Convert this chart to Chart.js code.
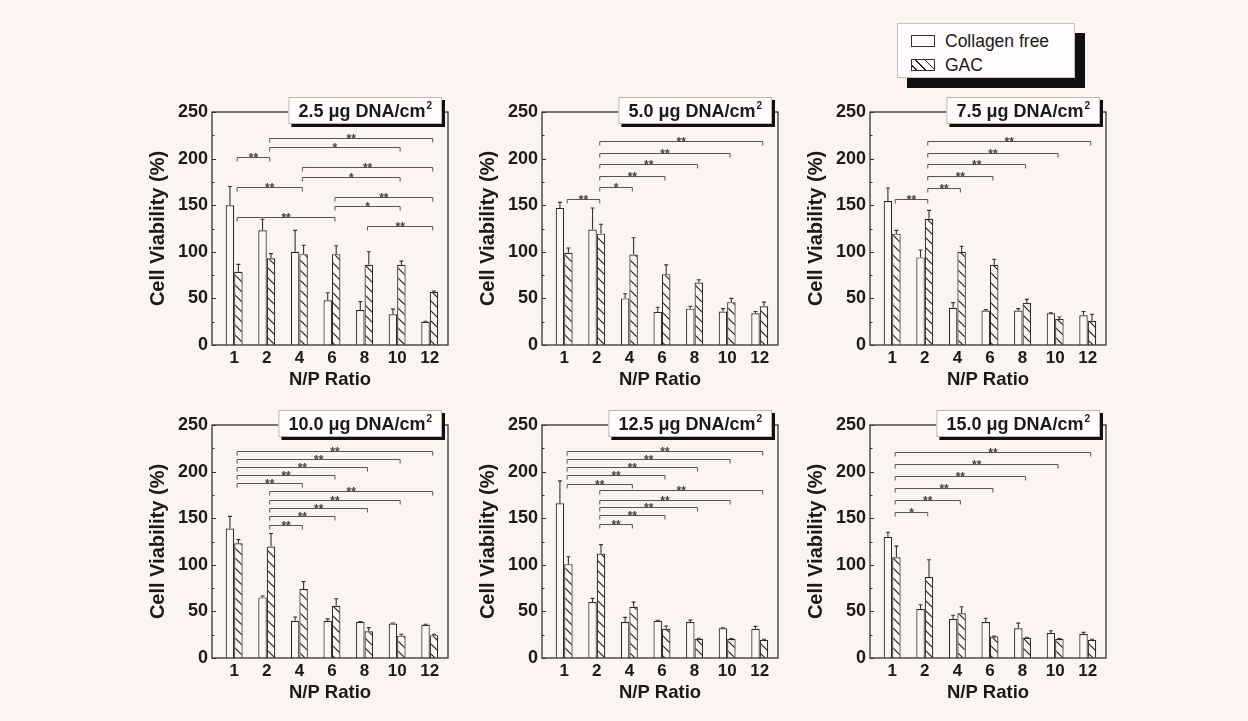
<!DOCTYPE html>
<html>
<head>
<meta charset="utf-8">
<title>Cell viability vs N/P ratio</title>
<script src="https://cdn.jsdelivr.net/npm/chart.js@4.4.1/dist/chart.umd.min.js"></script>
<style>
  body { margin: 0; width: 1248px; height: 721px; background: #fcf4f1; position: relative; overflow: hidden;
         font-family: "Liberation Sans", Arial, sans-serif; }
  canvas.panel { position: absolute; }
  #legend { position: absolute; left: 897px; top: 23px; width: 178px; height: 55px; box-sizing: border-box;
            background: #fffcfb; border: 1px solid #c8c2bf; box-shadow: 10px 10px 0 #111; }
  #legend .item { position: absolute; left: 13px; height: 20px; line-height: 20px; font-size: 17.5px; color: #1a1a1a;
                  display: flex; align-items: center; }
  #legend .sw { width: 24px; height: 12px; box-sizing: border-box; border: 1px solid #333; margin-right: 10px; background: #fffcfb; }
  #legend .hatch { background: repeating-linear-gradient(45deg, transparent 0 2.6px, #222 2.6px 3.8px, transparent 3.8px 6.5px), #fffcfb; }
</style>
</head>
<body>
<div id="legend">
  <div class="item" style="top:7px"><span class="sw"></span>Collagen free</div>
  <div class="item" style="top:31px"><span class="sw hatch"></span>GAC</div>
</div>
<script>
// categories and tick labels
const ratios = ["1", "2", "4", "6", "8", "10", "12"];
const yTicks = [0, 50, 100, 150, 200, 250];
const doses = ["2.5", "5.0", "7.5", "10.0", "12.5", "15.0"];

// 2.5 ug DNA/cm2
const free25 = [150, 123, 100, 48, 37.5, 33, 25];
const free25Err = [20, 12, 23, 8, 9, 5.5, 0.5];
const gac25 = [78.5, 93, 97.5, 97.5, 86, 86, 57];
const gac25Err = [8, 5, 9.5, 9, 14, 4, 1];
const sig25 = [[0, 1, 202, "**"], [1, 6, 222, "**"], [1, 5, 212.5, "*"], [2, 6, 191, "**"], [2, 5, 180, "*"],
               [0, 2, 169, "**"], [3, 6, 159, "**"], [3, 5, 149, "*"], [0, 3, 137.5, "**"], [4, 6, 127.5, "**"]];

// 5.0 ug DNA/cm2
const free50 = [147, 124, 50, 35.5, 39, 36, 34];
const free50Err = [6, 23, 5, 5, 2.5, 3, 2];
const gac50 = [99, 119.5, 97, 76, 67, 46, 41.5];
const gac50Err = [5, 10, 18, 10, 3, 4, 4.5];
const sig50 = [[0, 1, 157, "**"], [1, 2, 169, "*"], [1, 3, 181, "**"], [1, 4, 194, "**"], [1, 5, 206, "**"], [1, 6, 219, "**"]];

// 7.5 ug DNA/cm2
const free75 = [154.5, 94, 40, 37, 37, 34, 32];
const free75Err = [14, 8, 5.5, 1, 2, 0.5, 4];
const gac75 = [119.5, 135.5, 100, 86, 45, 28, 26];
const gac75Err = [3.5, 9, 6, 6, 4, 2, 7];
const sig75 = [[0, 1, 157, "**"], [1, 2, 168, "**"], [1, 3, 181, "**"], [1, 4, 194, "**"], [1, 5, 206, "**"], [1, 6, 219, "**"]];

// 10.0 ug DNA/cm2
const free100 = [139, 65, 40, 40, 38.6, 37, 35.7];
const free100Err = [13, 1.5, 4, 2, 0.5, 0.5, 0.5];
const gac100 = [123, 119.6, 74, 56, 28.6, 24, 24.5];
const gac100Err = [4, 14, 8, 7.5, 4, 1.5, 1];
const sig100 = [[0, 6, 222.5, "**"], [0, 5, 214, "**"], [0, 4, 205, "**"], [0, 3, 196, "**"], [0, 2, 188, "**"],
                [1, 6, 179, "**"], [1, 5, 170, "**"], [1, 4, 161, "**"], [1, 3, 152, "**"], [1, 2, 143, "**"]];

// 12.5 ug DNA/cm2
const free125 = [166, 60, 38.6, 40, 38.6, 32, 31.4];
const free125Err = [24, 4, 5, 0.5, 2, 0.5, 2.5];
const gac125 = [100.7, 112, 55, 31.4, 20.7, 20.4, 19.6];
const gac125Err = [8, 9.6, 5, 3, 0.5, 0.5, 0.5];
const sig125 = [[0, 6, 222.5, "**"], [0, 5, 213, "**"], [0, 4, 205, "**"], [0, 3, 196, "**"], [0, 2, 187, "**"],
                [1, 6, 180, "**"], [1, 5, 170, "**"], [1, 4, 162, "**"], [1, 3, 153.6, "**"], [1, 2, 143.6, "**"]];

// 15.0 ug DNA/cm2
const free150 = [130, 52.5, 41.8, 38.6, 32, 26.8, 25.7];
const free150Err = [5, 4.6, 4, 4, 5.4, 2.5, 1.8];
const gac150 = [108, 86.8, 48, 23, 21.8, 20.4, 19.6];
const gac150Err = [12, 18.6, 7, 0.5, 0.5, 0.5, 0.5];
const sig150 = [[0, 6, 220.7, "**"], [0, 5, 208, "**"], [0, 4, 195, "**"], [0, 3, 182, "**"], [0, 2, 169.6, "**"], [0, 1, 157, "*"]];

const FONT = '"Liberation Sans", Arial, sans-serif';
const INK = "#1a1a1a";
const BAR_FILL = "#fdf7f5";

// hatch tile for the GAC bars ("\" lines)
function makeHatch(ctx) {
    const tile = document.createElement("canvas");
    tile.width = 10;
    tile.height = 10;
    const g = tile.getContext("2d");
    g.fillStyle = BAR_FILL;
    g.fillRect(0, 0, 10, 10);
    g.strokeStyle = "#222";
    g.lineWidth = 1.2;
    g.beginPath();
    g.moveTo(-2, -2); g.lineTo(12, 12);
    g.moveTo(-2, 8); g.lineTo(2, 12);
    g.moveTo(8, -2); g.lineTo(12, 2);
    g.stroke();
    return ctx.createPattern(tile, "repeat");
}

// error bars, significance brackets, frame and the title box
function decoPlugin(dose, errs, sig) {
    return {
        id: "deco",
        afterDatasetsDraw(chart) {
            const ctx = chart.ctx, y = chart.scales.y, x = chart.scales.x;
            ctx.save();
            ctx.strokeStyle = "#333";
            ctx.lineWidth = 1.1;
            chart.data.datasets.forEach((ds, d) => {
                chart.getDatasetMeta(d).data.forEach((bar, i) => {
                    const top = y.getPixelForValue(ds.data[i].y + errs[d][i]);
                    ctx.beginPath();
                    ctx.moveTo(bar.x, bar.y);
                    ctx.lineTo(bar.x, top);
                    ctx.moveTo(bar.x - 2, top);
                    ctx.lineTo(bar.x + 2, top);
                    ctx.stroke();
                });
            });
            // brackets
            ctx.strokeStyle = "#555";
            ctx.lineWidth = 1;
            ctx.fillStyle = "#444";
            ctx.font = "bold 12px " + FONT;
            ctx.textAlign = "center";
            ctx.textBaseline = "alphabetic";
            sig.forEach(([a, b, lvl, mark]) => {
                const x1 = x.getPixelForValue(a + 1) + 3, x2 = x.getPixelForValue(b + 1) + 3;
                const yy = Math.round(y.getPixelForValue(lvl)) + 0.5;
                ctx.beginPath();
                ctx.moveTo(x1, yy + 4);
                ctx.lineTo(x1, yy);
                ctx.lineTo(x2, yy);
                ctx.lineTo(x2, yy + 4);
                ctx.stroke();
                ctx.fillText(mark, (x1 + x2) / 2, yy + 4);
            });
            ctx.restore();
        },
        afterDraw(chart) {
            const ctx = chart.ctx, a = chart.chartArea, y = chart.scales.y;
            ctx.save();
            ctx.strokeStyle = "#333";
            ctx.lineWidth = 1.3;
            ctx.strokeRect(a.left, a.top, a.right - a.left, a.bottom - a.top);
            // small inward ticks on the left axis
            ctx.lineWidth = 1;
            for (let v = 0; v <= 250; v += 25) {
                const py = Math.round(y.getPixelForValue(v)) + 0.5;
                ctx.beginPath();
                ctx.moveTo(a.left, py);
                ctx.lineTo(a.left + (v % 50 === 0 ? 4 : 2.5), py);
                ctx.stroke();
            }
            // title box with shadow
            const main = dose + " \u03bcg DNA/cm";
            ctx.font = "bold 18px " + FONT;
            const mw = ctx.measureText(main).width;
            ctx.font = "bold 10px " + FONT;
            const sw = ctx.measureText("2").width;
            const bw = mw + sw + 21, bh = 27;
            const bx = a.right - 6 - bw, by = a.top - 15;
            ctx.fillStyle = "#111";
            ctx.fillRect(bx + 3, by + 3, bw, bh);
            ctx.fillStyle = "#fffcfb";
            ctx.fillRect(bx, by, bw, bh);
            ctx.strokeStyle = "#bdb7b4";
            ctx.lineWidth = 1;
            ctx.strokeRect(bx + 0.5, by + 0.5, bw - 1, bh - 1);
            ctx.fillStyle = INK;
            ctx.textAlign = "left";
            ctx.textBaseline = "alphabetic";
            ctx.font = "bold 18px " + FONT;
            ctx.fillText(main, bx + 10, by + 20);
            ctx.font = "bold 10px " + FONT;
            ctx.fillText("2", bx + 10 + mw + 1, by + 12);
            ctx.restore();
        }
    };
}

const panelLeft = [212, 542, 870];
const panelTop = [112, 425];
const panels = [
    [doses[0], free25, free25Err, gac25, gac25Err, sig25],
    [doses[1], free50, free50Err, gac50, gac50Err, sig50],
    [doses[2], free75, free75Err, gac75, gac75Err, sig75],
    [doses[3], free100, free100Err, gac100, gac100Err, sig100],
    [doses[4], free125, free125Err, gac125, gac125Err, sig125],
    [doses[5], free150, free150Err, gac150, gac150Err, sig150]
];

panels.forEach(([dose, free, freeErr, gac, gacErr, sig], k) => {
    const cv = document.createElement("canvas");
    cv.className = "panel";
    cv.width = 312;           // 70 axis + 236 plot + 6
    cv.height = 303;          // 20 top + 233 plot + 50 axis
    cv.style.left = (panelLeft[k % 3] - 70) + "px";
    cv.style.top = (panelTop[Math.floor(k / 3)] - 20) + "px";
    document.body.appendChild(cv);
    const ctx = cv.getContext("2d");

    new Chart(ctx, {
        type: "bar",
        data: {
            datasets: [
                {
                    label: "Collagen free",
                    data: free.map((v, i) => ({ x: i + 1, y: v })),
                    backgroundColor: BAR_FILL,
                    borderColor: "#2a2a2a",
                    borderWidth: 1.2,
                    categoryPercentage: 0.52,
                    barPercentage: 1
                },
                {
                    label: "GAC",
                    data: gac.map((v, i) => ({ x: i + 1, y: v })),
                    backgroundColor: makeHatch(ctx),
                    borderColor: "#2a2a2a",
                    borderWidth: 1.2,
                    categoryPercentage: 0.52,
                    barPercentage: 1
                }
            ]
        },
        options: {
            responsive: false,
            animation: false,
            devicePixelRatio: 1,
            layout: { padding: { top: 20, right: 6, left: 0, bottom: 0 } },
            plugins: { legend: { display: false }, tooltip: { enabled: false } },
            scales: {
                x: {
                    type: "linear",
                    min: 0.32,
                    max: 7.56,
                    offset: false,
                    afterBuildTicks: (s) => { s.ticks = ratios.map((r, i) => ({ value: i + 1 })); },
                    afterFit: (s) => { s.height = 50; },
                    ticks: {
                        callback: (v) => ratios[v - 1],
                        autoSkip: false,
                        maxRotation: 0,
                        padding: 3,
                        color: INK,
                        font: { family: FONT, size: 17, weight: "bold" }
                    },
                    grid: { display: false, drawTicks: false },
                    border: { display: false },
                    title: {
                        display: true,
                        text: "N/P Ratio",
                        color: INK,
                        padding: { top: 4, bottom: 4 },
                        font: { family: FONT, size: 18.5, weight: "bold" }
                    }
                },
                y: {
                    min: 0,
                    max: 250,
                    afterBuildTicks: (s) => { s.ticks = yTicks.map((v) => ({ value: v })); },
                    afterFit: (s) => { s.width = 70; },
                    ticks: {
                        padding: 4,
                        color: INK,
                        font: { family: FONT, size: 18, weight: "bold" }
                    },
                    grid: { display: false, drawTicks: false },
                    border: { display: false },
                    title: {
                        display: true,
                        text: "Cell Viability (%)",
                        color: INK,
                        padding: { top: 4, bottom: 4 },
                        font: { family: FONT, size: 20, weight: "bold" }
                    }
                }
            }
        },
        plugins: [decoPlugin(dose, [freeErr, gacErr], sig)]
    });
});
</script>
</body>
</html>
